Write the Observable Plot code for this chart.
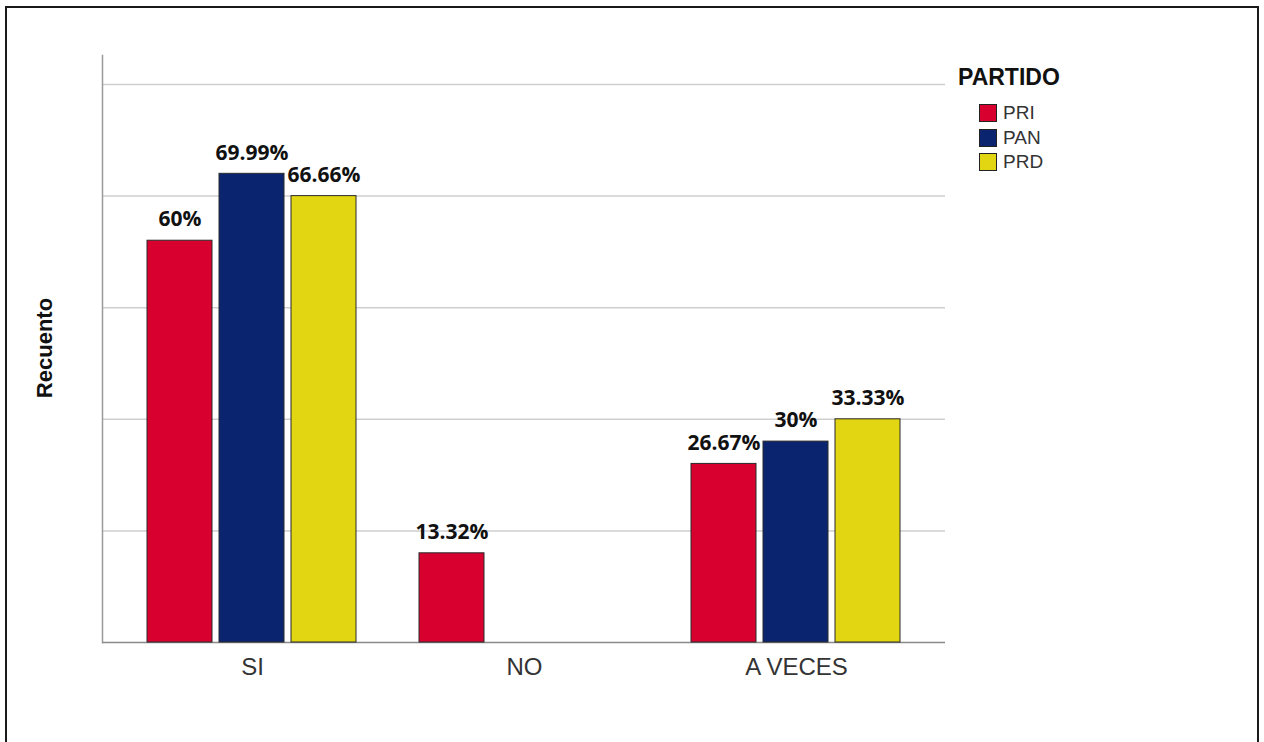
<!DOCTYPE html>
<html>
<head>
<meta charset="utf-8">
<script src="https://cdn.jsdelivr.net/npm/d3@7"></script>
<script src="https://cdn.jsdelivr.net/npm/@observablehq/plot@0.6"></script>
<style>
  html, body { margin: 0; padding: 0; background: #fff; }
  #page { position: relative; width: 1264px; height: 742px; overflow: hidden; font-family: "Liberation Sans", Arial, sans-serif; }
  #box { position: absolute; left: 5px; top: 6px; width: 1250px; height: 780px; border: 2px solid #1a1a1a; box-sizing: content-box; }
  .layer { position: absolute; left: 0; top: 0; }
  #ylabel { position: absolute; left: 45px; top: 348px; transform: translate(-50%, -50%) rotate(-90deg); font-weight: bold; font-size: 22px; color: #111; white-space: nowrap; }
  #legend { position: absolute; left: 958px; top: 62px; }
  #legend .title { font-weight: bold; font-size: 23px; color: #111; line-height: 30px; margin-bottom: 9px; }
  #legend .item { display: flex; align-items: center; height: 24.5px; margin-left: 21px; font-size: 19px; color: #333; }
  #legend .sw { width: 16px; height: 16px; border: 1.5px solid #222; margin-right: 6px; }
</style>
</head>
<body>
<div id="page">
  <div id="box"></div>
  <div id="grid" class="layer"></div>
  <div id="chart" class="layer"></div>
  <div id="ylabel">Recuento</div>
  <div id="legend"></div>
</div>
<script>
// Answers per category and party, as percentages of each party's respondents
const categories = ["SI", "NO", "A VECES"];
const parties = ["PRI", "PAN", "PRD"];
const partyColors = ["#D7002F", "#0A2470", "#E2D511"];
const priValues = [60, 13.32, 26.67];
const panValues = [69.99, null, 30];
const prdValues = [66.66, null, 33.33];
// gridlines every 5 counts out of 30 respondents
const gridTicks = [1, 2, 3, 4, 5].map(k => k * 100 / 6);
const yMax = 87.66;

const series = [priValues, panValues, prdValues];
const data = [];
categories.forEach((c, i) => {
  parties.forEach((p, j) => {
    const v = series[j][i];
    if (v != null) data.push({category: c, party: p, value: v, label: v + "%"});
  });
});

// shared frame geometry for both layers
const frame = {
  width: 1264,
  height: 742,
  marginLeft: 102,
  marginRight: 319,
  marginTop: 55,
  marginBottom: 100,
  style: {background: "transparent", fontFamily: "Liberation Sans, Arial, sans-serif", color: "#333"}
};

// background layer: gridlines, y axis line and baseline across the whole frame
const grid = Plot.plot({
  ...frame,
  y: {domain: [0, yMax], axis: null},
  marks: [
    Plot.ruleY(gridTicks, {stroke: "#cfcfcf", strokeWidth: 1.5}),
    Plot.frame({anchor: "left", stroke: "#9a9a9a", strokeWidth: 1.5}),
    Plot.ruleY([0], {stroke: "#8a8a8a", strokeWidth: 1.5})
  ]
});
document.getElementById("grid").appendChild(grid);

// bars grouped by answer, one bar per party
const chart = Plot.plot({
  ...frame,
  fx: {domain: categories, paddingInner: 0, paddingOuter: 0.0496, label: null},
  x: {domain: parties, paddingInner: 0.097, paddingOuter: 0.43, axis: null},
  y: {domain: [0, yMax], axis: null},
  color: {domain: parties, range: partyColors},
  marks: [
    Plot.barY(data, {fx: "category", x: "party", y: "value", fill: "party", stroke: "#2a2a2a", strokeWidth: 1}),
    Plot.text(data, {fx: "category", x: "party", y: "value", text: "label", dy: -21,
      fontWeight: "bold", fontSize: 21, fontFamily: "Open Sans, sans-serif", fill: "#111"}),
    Plot.axisFx({anchor: "bottom", tickSize: 0, tickPadding: 15, fontSize: 24, label: null})
  ]
});
document.getElementById("chart").appendChild(chart);

// legend built from the same party list and colors
const legend = document.getElementById("legend");
const title = document.createElement("div");
title.className = "title";
title.textContent = "PARTIDO";
legend.appendChild(title);
parties.forEach((p, j) => {
  const item = document.createElement("div");
  item.className = "item";
  const sw = document.createElement("div");
  sw.className = "sw";
  sw.style.background = partyColors[j];
  const t = document.createElement("span");
  t.textContent = p;
  item.appendChild(sw);
  item.appendChild(t);
  legend.appendChild(item);
});
</script>
</body>
</html>
